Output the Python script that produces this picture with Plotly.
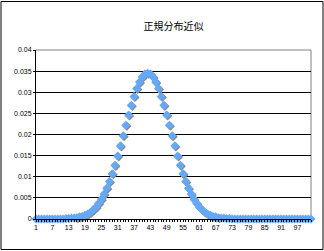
import plotly.graph_objects as go

# categories 1..102
categories = list(range(1, 103))
values = (
    [0.0] * 11
    + [0.0001, 0.0001, 0.0002, 0.0002, 0.0003, 0.0005, 0.0006, 0.0009, 0.0012, 0.0016,
       0.0022, 0.0028, 0.0037, 0.0047, 0.0059, 0.0073, 0.0089, 0.0107, 0.0127, 0.0149,
       0.0173, 0.0197, 0.0222, 0.0246, 0.0269, 0.0290, 0.0309, 0.0324, 0.0336, 0.0343,
       0.0345,
       0.0343, 0.0336, 0.0324, 0.0309, 0.0290, 0.0269, 0.0246, 0.0222, 0.0197, 0.0173,
       0.0149, 0.0127, 0.0107, 0.0089, 0.0073, 0.0059, 0.0047, 0.0037, 0.0028, 0.0022,
       0.0016, 0.0012, 0.0009, 0.0006, 0.0005, 0.0003, 0.0002, 0.0002, 0.0001, 0.0001]
    + [0.0] * 30
)
x_tick_labels = list(range(1, 103, 6))
y_tick_vals = [0, 0.005, 0.01, 0.015, 0.02, 0.025, 0.03, 0.035, 0.04]
y_tick_text = ["0", "0.005", "0.01", "0.015", "0.02", "0.025", "0.03", "0.035", "0.04"]
title_text = "正規分布近似"

W, H = 324, 251
ML, MR, MT, MB = 36, 13, 50, 32
PW, PH = W - ML - MR, H - MT - MB
xr = [categories[0], categories[-1]]
yr = [0, 0.04]
px_x = (xr[1] - xr[0]) / PW
px_y = (yr[1] - yr[0]) / PH

fig = go.Figure()
# invisible trace to keep base axes
fig.add_trace(go.Scatter(
    x=categories, y=values, mode="markers",
    marker=dict(size=1, opacity=0), hoverinfo="skip", showlegend=False))
# shadow
fig.add_trace(go.Scatter(
    x=categories, y=values, mode="markers", xaxis="x2", yaxis="y2",
    marker=dict(symbol="diamond", size=7, color="#8a8a8a"),
    cliponaxis=False, hoverinfo="skip", showlegend=False))
fig.add_trace(go.Scatter(
    x=categories, y=values, mode="markers", xaxis="x3", yaxis="y3",
    marker=dict(symbol="diamond", size=7, color="#66A8F8"),
    cliponaxis=False, showlegend=False))

font_ticks = dict(family="Liberation Sans, Arial", size=7, color="black")
fig.update_layout(
    width=W, height=H,
    margin=dict(l=ML, r=MR, t=MT, b=MB),
    paper_bgcolor="white", plot_bgcolor="white",
    title=dict(text=title_text, x=0.5, xref="paper", xanchor="center",
               y=1 - 26 / H, yanchor="middle",
               font=dict(family="Noto Sans CJK JP", size=10, color="black")),
    xaxis=dict(range=xr, tickmode="array", tickvals=x_tick_labels,
               ticktext=[str(v) for v in x_tick_labels],
               showgrid=False, zeroline=False, showline=True, linecolor="black",
               linewidth=1, ticks="outside", ticklen=2, tickcolor="black",
               tickfont=font_ticks,
               minor=dict(tick0=1, dtick=1, ticks="outside", ticklen=2,
                          tickcolor="black", showgrid=False)),
    yaxis=dict(range=yr, tickmode="array", tickvals=y_tick_vals, ticktext=y_tick_text,
               showgrid=True, gridcolor="black", gridwidth=1, zeroline=False,
               showline=True, linecolor="black", linewidth=1,
               ticks="outside", ticklen=2, tickcolor="black", tickfont=font_ticks),
    xaxis2=dict(range=[xr[0] - px_x, xr[1] - px_x], overlaying="x", visible=False),
    yaxis2=dict(range=[yr[0] + px_y, yr[1] + px_y], overlaying="y", visible=False),
    xaxis3=dict(range=xr, overlaying="x", visible=False),
    yaxis3=dict(range=yr, overlaying="y", visible=False),
    shapes=[
        dict(type="line", xref="paper", yref="paper", x0=0, x1=1, y0=1, y1=1,
             line=dict(color="#808080", width=1), layer="between"),
        dict(type="line", xref="paper", yref="paper", x0=1, x1=1, y0=0, y1=1,
             line=dict(color="#808080", width=1), layer="between"),
        dict(type="rect", xref="paper", yref="paper",
             x0=(1 - ML) / PW, x1=(W - 1 - ML) / PW,
             y0=-(MB - 1.5) / PH, y1=1 + (MT - 1.5) / PH,
             line=dict(color="black", width=1), layer="below"),
    ],
)
fig.write_html("out.html")
